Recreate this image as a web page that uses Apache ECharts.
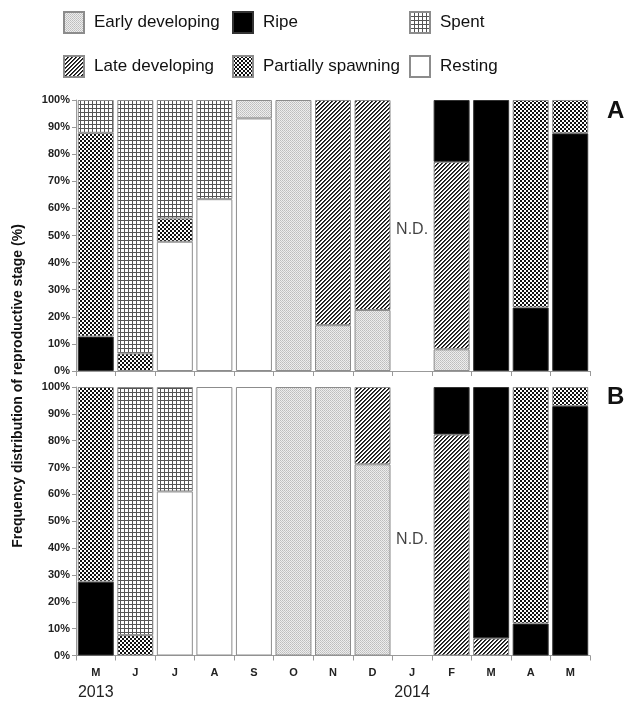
<!DOCTYPE html>
<html>
<head>
<meta charset="utf-8">
<script src="https://cdn.jsdelivr.net/npm/echarts@6/dist/echarts.min.js"></script>
<style>
html,body{margin:0;padding:0;background:#fff;}
#chart{width:624px;height:701px;}
</style>
</head>
<body>
<div id="chart"></div>
<script>
// ---------- data ----------
const categories = ['M','J','J','A','S','O','N','D','J','F','M','A','M'];
const yearLabels = {0:'2013', 8:'2014'};
const stageNames = ['Resting','Early developing','Late developing','Ripe','Partially spawning','Spent'];
const noDataIndex = 8;

// Panel A (% of individuals per stage)
const restingA  = [0,0,47.7,63.4,93.2,0,0,0,0,0,0,0,0];
const earlyA    = [0,0,0,0,6.8,100,16.9,22.5,0,8.0,0,0,0];
const lateA     = [0,0,0,0,0,0,83.1,77.5,0,69.2,0,0,0];
const ripeA     = [12.7,0,0,0,0,0,0,0,0,22.8,100,23.4,87.7];
const partialA  = [75.2,6.5,8.6,0,0,0,0,0,0,0,0,76.6,12.3];
const spentA    = [12.1,93.5,43.7,36.6,0,0,0,0,0,0,0,0,0];

// Panel B
const restingB  = [0,0,61.1,100,100,0,0,0,0,0,0,0,0];
const earlyB    = [0,0,0,0,0,100,100,71.2,0,0,0,0,0];
const lateB     = [0,0,0,0,0,0,0,28.8,0,82.3,6.4,0,0];
const ripeB     = [27.5,0,0,0,0,0,0,0,0,17.7,93.6,11.9,92.9];
const partialB  = [72.5,7.6,0,0,0,0,0,0,0,0,0,88.1,7.1];
const spentB    = [0,92.4,38.9,0,0,0,0,0,0,0,0,0,0];

// ---------- patterns ----------
function makePattern(size, painter){
  const c = document.createElement('canvas');
  c.width = size; c.height = size;
  const ctx = c.getContext('2d');
  painter(ctx, size);
  return {image: c, repeat: 'repeat'};
}
function px(ctx, x, y, col){ ctx.fillStyle = col; ctx.fillRect(x, y, 1, 1); }

const patEarly = makePattern(2, (ctx) => {
  ctx.fillStyle = '#ededed'; ctx.fillRect(0,0,2,2);
  px(ctx,0,0,'#bdbdbd'); px(ctx,1,1,'#c8c8c8');
});
const patLate = makePattern(4, (ctx) => {
  ctx.fillStyle = '#ffffff'; ctx.fillRect(0,0,4,4);
  for (let x=0;x<4;x++) for (let y=0;y<4;y++){
    const k = (x+y)%4;
    if (k===0) px(ctx,x,y,'#111');
    else if (k===1) px(ctx,x,y,'#444');
  }
});
const patPartial = makePattern(4, (ctx) => {
  ctx.fillStyle = '#ffffff'; ctx.fillRect(0,0,4,4);
  for (let x=0;x<4;x++) for (let y=0;y<4;y++){
    if ((Math.floor(x/2)+Math.floor(y/2))%2===0) px(ctx,x,y,'#111');
  }
});
const patSpent = makePattern(4, (ctx) => {
  ctx.fillStyle = '#ffffff'; ctx.fillRect(0,0,4,4);
  ctx.fillStyle = '#555555';
  ctx.fillRect(0,0,4,1);
  ctx.fillRect(0,0,1,4);
});

const fills = {
  'Resting': '#ffffff',
  'Early developing': patEarly,
  'Late developing': patLate,
  'Ripe': '#000000',
  'Partially spawning': patPartial,
  'Spent': patSpent
};
const borders = {
  'Resting': '#8c8c8c',
  'Early developing': '#8c8c8c',
  'Late developing': '#8c8c8c',
  'Ripe': '#333333',
  'Partially spawning': '#8c8c8c',
  'Spent': '#8c8c8c'
};

const panelA = [restingA, earlyA, lateA, ripeA, partialA, spentA];
const panelB = [restingB, earlyB, lateB, ripeB, partialB, spentB];

const FONT = 'Liberation Sans, Arial, sans-serif';

function barSeries(panel, idx){
  return stageNames.map((name, i) => ({
    name: name,
    type: 'bar',
    stack: 'p' + idx,
    xAxisIndex: idx, yAxisIndex: idx,
    barCategoryGap: '9%',
    data: panel[i].map(v => v === 0 ? '-' : v),
    itemStyle: { color: fills[name], borderColor: borders[name], borderWidth: 1 },
    emphasis: { disabled: true },
    animation: false
  }));
}
function ndSeries(idx, yv){
  return {
    type: 'scatter', xAxisIndex: idx, yAxisIndex: idx,
    symbolSize: 0, silent: true, animation: false,
    data: [[noDataIndex, yv]],
    label: { show: true, position: 'inside', formatter: 'N.D.', fontSize: 16, color: '#111', fontFamily: FONT }
  };
}

const yAxisBase = {
  type: 'value', min: 0, max: 100, interval: 10,
  axisLine: { show: true, lineStyle: { color: '#999', width: 1 } },
  axisTick: { show: true, length: 4, lineStyle: { color: '#999' } },
  splitLine: { show: false },
  axisLabel: { formatter: '{value}%', fontSize: 11, fontWeight: 'bold', color: '#222', fontFamily: FONT, margin: 6 }
};
function xAxis(idx, showLabels){
  return {
    type: 'category', gridIndex: idx, data: categories,
    axisLine: { show: true, lineStyle: { color: '#999', width: 1 } },
    axisTick: { show: true, length: 5, alignWithLabel: false, lineStyle: { color: '#999' } },
    axisLabel: {
      show: showLabels, interval: 0, margin: 12,
      fontSize: 11, fontWeight: 'bold', color: '#222', fontFamily: FONT,
      formatter: function(v, i){ return yearLabels[i] ? v + '\n{yr|' + yearLabels[i] + '}' : v; },
      rich: { yr: { fontSize: 16, fontWeight: 'normal', color: '#222', fontFamily: FONT, lineHeight: 24, padding: [5,0,0,0] } }
    }
  };
}

function legendCol(left, names){
  return {
    left: left, top: 11, orient: 'vertical', itemGap: 21, padding: 0,
    itemWidth: 20, itemHeight: 21, selectedMode: false,
    data: names.map(n => ({ name: n, icon: 'rect' })),
    textStyle: { fontSize: 17, color: '#111', fontFamily: FONT, padding: [0,0,0,5] }
  };
}

const option = {
  backgroundColor: '#fff',
  animation: false,
  legend: [
    legendCol(63, ['Early developing','Late developing']),
    legendCol(232, ['Ripe','Partially spawning']),
    legendCol(409, ['Spent','Resting'])
  ],
  title: [
    { text: 'A', left: 602, top: 94, textStyle: { fontSize: 24, fontWeight: 'bold', color: '#111', fontFamily: FONT } },
    { text: 'B', left: 602, top: 380, textStyle: { fontSize: 24, fontWeight: 'bold', color: '#111', fontFamily: FONT } }
  ],
  graphic: [{
    type: 'text', x: 18, y: 386, rotation: Math.PI/2,
    style: { text: 'Frequency distribution of reproductive stage (%)', fontSize: 14, fontWeight: 'bold',
      fill: '#111', fontFamily: FONT, textAlign: 'center', textVerticalAlign: 'middle' }
  }],
  grid: [
    { left: 76, width: 514, top: 100, height: 271 },
    { left: 76, width: 514, top: 387, height: 273 }
  ],
  xAxis: [xAxis(0, false), xAxis(1, true)],
  yAxis: [Object.assign({ gridIndex: 0 }, yAxisBase), Object.assign({ gridIndex: 1 }, yAxisBase)],
  series: [].concat(barSeries(panelA, 0), barSeries(panelB, 1), [ndSeries(0, 52), ndSeries(1, 43)])
};

const chart = echarts.init(document.getElementById('chart'), null, { renderer: 'canvas' });
chart.setOption(option);
</script>
</body>
</html>
